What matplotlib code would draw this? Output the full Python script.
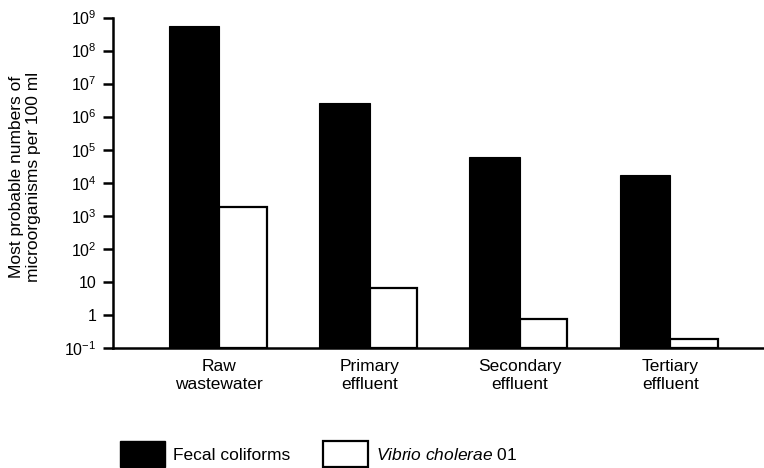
import matplotlib
matplotlib.use("Agg")
import matplotlib.pyplot as plt
from matplotlib.patches import Patch
import numpy as np

plt.rcParams['font.family'] = ['Liberation Sans', 'DejaVu Sans']
plt.rcParams['mathtext.fontset'] = 'custom'
plt.rcParams['mathtext.rm'] = 'Liberation Sans'
plt.rcParams['mathtext.it'] = 'Liberation Sans:italic'
plt.rcParams['mathtext.bf'] = 'Liberation Sans:bold'

categories = ["Raw\nwastewater", "Primary\neffluent", "Secondary\neffluent", "Tertiary\neffluent"]
fecal_coliforms = [5.5e8, 2.6e6, 6.1e4, 1.7e4]
vibrio_cholerae = [1.8e3, 6.4, 0.74, 0.19]
ytick_values = [1e-1, 1, 10, 1e2, 1e3, 1e4, 1e5, 1e6, 1e7, 1e8, 1e9]
ytick_labels = [r"$10^{-1}$", "1", "10", r"$10^{2}$", r"$10^{3}$", r"$10^{4}$",
                r"$10^{5}$", r"$10^{6}$", r"$10^{7}$", r"$10^{8}$", r"$10^{9}$"]

fig = plt.figure(figsize=(7.64, 4.68), dpi=100)
ax = fig.add_axes([113/764, 1 - 348/468, 1 - 113/764, (348 - 17.5)/468])

x = np.arange(len(categories))
w_black = 0.336
w_white = 0.316
ymin = 1e-1
ax.set_yscale('log')
ax.bar(x - w_black/2, np.array(fecal_coliforms) - ymin, width=w_black, bottom=ymin,
       color='black', edgecolor='black', linewidth=0.8, label='Fecal coliforms')
ax.bar(x + w_white/2, np.array(vibrio_cholerae) - ymin, width=w_white, bottom=ymin,
       color='white', edgecolor='black', linewidth=1.6, label=r'$\it{Vibrio\ cholerae}$ 01')

ax.set_ylim(ymin, 1e9)
ax.set_xlim(-0.707, 3.624)
ax.set_yticks(ytick_values)
ax.set_yticklabels(ytick_labels, fontsize=11.5)
ax.yaxis.set_minor_locator(matplotlib.ticker.NullLocator())
ax.tick_params(axis='y', direction='out', length=7, width=1.8, pad=5)
ax.set_xticks(x)
ax.set_xticklabels(categories, fontsize=12.5)
ax.tick_params(axis='x', length=0, pad=8)

for s in ['top', 'right']:
    ax.spines[s].set_visible(False)
for s in ['left', 'bottom']:
    ax.spines[s].set_linewidth(1.8)

fig.text(25/764, 1 - 177/468, "Most probable numbers of\nmicroorganisms per 100 ml",
         rotation=90, ha='center', va='center', fontsize=12.5, linespacing=1.15)

handles = [Patch(facecolor='black', edgecolor='black', linewidth=1.0),
           Patch(facecolor='white', edgecolor='black', linewidth=1.6)]
labels = ['Fecal coliforms', r'$\it{Vibrio\ cholerae}$ 01']
fig.legend(handles, labels, loc='lower left', bbox_to_anchor=(120/764, 1/468),
           ncol=2, frameon=False, fontsize=12.5, handlelength=2.6, handleheight=1.9,
           handletextpad=0.45, columnspacing=1.9, borderpad=0, borderaxespad=0)

fig.savefig("out.png", dpi=100)
